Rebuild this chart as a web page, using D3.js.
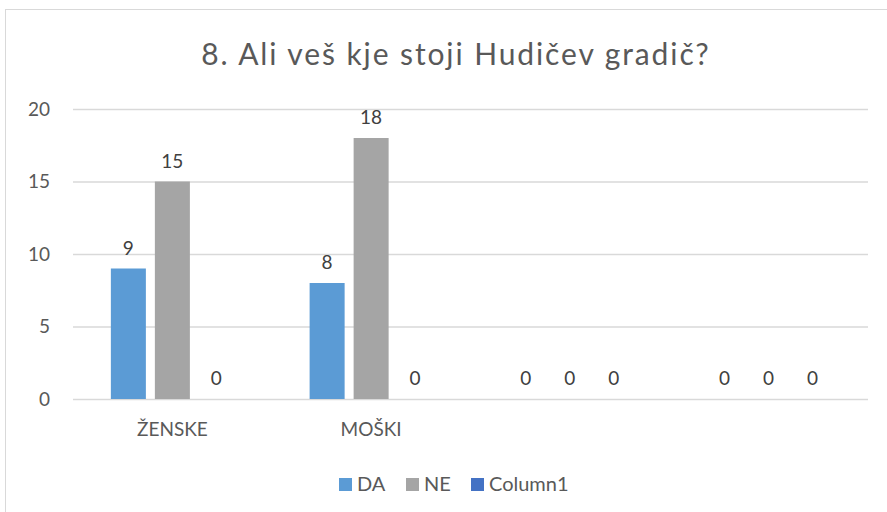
<!DOCTYPE html>
<html><head><meta charset="utf-8">
<script src="https://cdn.jsdelivr.net/npm/d3@7/dist/d3.min.js"></script>
<style>body{margin:0;background:#fff}svg{display:block}text{font-family:Lato,"Open Sans",sans-serif}</style>
</head><body><svg id="c" width="887" height="512"></svg>
<script>
const title = "8. Ali veš kje stoji Hudičev gradič?";
const categories = ["ŽENSKE", "MOŠKI", "", " "];
const seriesNames = ["DA", "NE", "Column1"];
const DA = [9, 8, 0, 0];
const NE = [15, 18, 0, 0];
const Column1 = [0, 0, 0, 0];
const yTicks = [0, 5, 10, 15, 20];
const colors = ["#5B9BD5", "#A5A5A5", "#4472C4"];
const seriesValues = [DA, NE, Column1];

(function () {
const svg = d3.select("#c");
svg.append("rect").attr("x", 5.5).attr("y", 9.5).attr("width", 900).attr("height", 600)
  .attr("fill", "#fff").attr("stroke", "#D9D9D9").attr("stroke-width", 1);

svg.append("text").attr("x", 456).attr("y", 65).attr("text-anchor", "middle")
  .attr("font-size", 30).attr("letter-spacing", 1.9).attr("fill", "#595959").text(title);

const pLeft = 73, pRight = 868, pTop = 109, pBottom = 399;
const y = d3.scaleLinear().domain([0, 20]).range([pBottom, pTop]);
const x0 = d3.scaleBand().domain(categories).range([pLeft, pRight]).paddingInner(0.381).paddingOuter(0.1905);
const x1 = d3.scaleBand().domain(seriesNames).range([0, x0.bandwidth()]).paddingInner(0.2045).paddingOuter(0);

const yAxis = d3.axisLeft(y).tickValues(yTicks).tickSize(-(pRight - pLeft)).tickPadding(23);
const gy = svg.append("g").attr("transform", `translate(${pLeft},0)`).call(yAxis);
gy.select(".domain").remove();
gy.selectAll(".tick line").attr("stroke", "#D9D9D9").attr("stroke-width", 1.3);
gy.selectAll(".tick text").attr("fill", "#595959").attr("font-size", 19).attr("font-family", "Lato");

const xAxis = d3.axisBottom(x0).tickSize(0).tickPadding(24);
const gx = svg.append("g").attr("transform", `translate(0,${pBottom})`).call(xAxis);
gx.select(".domain").remove();
gx.selectAll(".tick text").attr("fill", "#595959").attr("font-size", 19).attr("font-family", "Lato");

const data = [];
categories.forEach((c, i) => seriesNames.forEach((s, j) => data.push({c, s, v: seriesValues[j][i], col: colors[j]})));

svg.append("g").selectAll("rect").data(data).join("rect")
  .attr("x", d => x0(d.c) + x1(d.s)).attr("width", x1.bandwidth())
  .attr("y", d => y(d.v)).attr("height", d => pBottom - y(d.v)).attr("fill", d => d.col);

svg.append("g").selectAll("text").data(data).join("text")
  .attr("x", d => x0(d.c) + x1(d.s) + x1.bandwidth() / 2).attr("y", d => y(d.v) - 14)
  .attr("text-anchor", "middle").attr("font-size", 19).attr("fill", "#404040").text(d => d.v);

const legX = [339, 406, 471];
const lg = svg.append("g").selectAll("g").data(seriesNames).join("g")
  .attr("transform", (d, i) => `translate(${legX[i]},478)`);
lg.append("rect").attr("width", 13).attr("height", 13).attr("fill", (d, i) => colors[i]);
lg.append("text").attr("x", 18).attr("y", 13).attr("font-size", 20).attr("fill", "#595959").text(d => d);
})();
</script></body></html>
